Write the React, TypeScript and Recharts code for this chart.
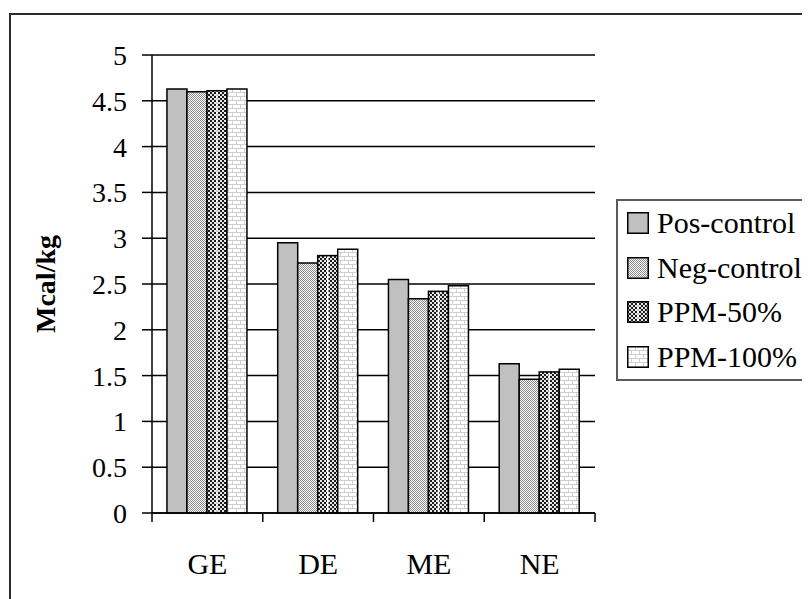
import { Bar, BarChart, CartesianGrid, Legend, XAxis, YAxis } from "recharts";

const categories = ["GE", "DE", "ME", "NE"];
const posControl = [4.63, 2.95, 2.55, 1.63];
const negControl = [4.6, 2.73, 2.34, 1.46];
const ppm50 = [4.61, 2.81, 2.42, 1.54];
const ppm100 = [4.63, 2.88, 2.48, 1.57];
const yTicks = [0, 0.5, 1, 1.5, 2, 2.5, 3, 3.5, 4, 4.5, 5];
const seriesNames = ["Pos-control", "Neg-control", "PPM-50%", "PPM-100%"];

const FONT = '"Liberation Serif", "Times New Roman", serif';

const data = categories.map((name, i) => ({
  name,
  pos: posControl[i],
  neg: negControl[i],
  p50: ppm50[i],
  p100: ppm100[i],
}));

const series = [
  { key: "pos", name: seriesNames[0], fill: "#c0c0c0" },
  { key: "neg", name: seriesNames[1], fill: "url(#negDots)" },
  { key: "p50", name: seriesNames[2], fill: "url(#darkDots)" },
  { key: "p100", name: seriesNames[3], fill: "url(#brick)" },
];

// fill patterns shared by the bars and the legend swatches
function PatternDefs() {
  return (
    <svg width={0} height={0} style={{ position: "absolute" }}>
      <defs>
        <pattern id="negDots" width={2} height={2} patternUnits="userSpaceOnUse">
          <rect width={2} height={2} fill="#fff" />
          <rect x={0} y={0} width={1} height={1} fill="#8a8a8a" />
          <rect x={1} y={1} width={1} height={1} fill="#8a8a8a" />
        </pattern>
        <pattern id="darkDots" width={4} height={4} patternUnits="userSpaceOnUse">
          <rect width={4} height={4} fill="#1c1c1c" />
          <rect x={0} y={0} width={2} height={2} fill="#e6e6e6" />
          <rect x={2} y={2} width={2} height={2} fill="#e6e6e6" />
        </pattern>
        <pattern id="brick" width={8} height={8} patternUnits="userSpaceOnUse">
          <rect width={8} height={8} fill="#fff" />
          <rect x={0} y={0} width={8} height={1} fill="#cfcfcf" />
          <rect x={0} y={4} width={8} height={1} fill="#cfcfcf" />
          <rect x={0} y={0} width={1} height={4} fill="#cfcfcf" />
          <rect x={4} y={4} width={1} height={4} fill="#cfcfcf" />
        </pattern>
      </defs>
    </svg>
  );
}

// the dark bar carries a thin white stripe down its middle
function DarkBar(props: any) {
  const { x, y, width, height } = props;
  if (!height) return null;
  const mid = x + width / 2;
  return (
    <g>
      <rect x={x} y={y} width={width} height={height} fill="url(#darkDots)" stroke="#000" strokeWidth={1.5} />
      <line x1={mid} x2={mid} y1={y + 1} y2={y + height - 1} stroke="#fff" strokeWidth={1.5} />
    </g>
  );
}

function CategoryTick(props: any) {
  const { x, y, payload, index, visibleTicksCount, width } = props;
  const half = payload?.offset > 0 ? payload.offset : width / visibleTicksCount / 2;
  const last = index === visibleTicksCount - 1;
  return (
    <g>
      <line x1={x - half} x2={x - half} y1={y} y2={y + 9} stroke="#000" strokeWidth={1.5} />
      {last && <line x1={x + half} x2={x + half} y1={y} y2={y + 9} stroke="#000" strokeWidth={1.5} />}
      <text x={x} y={y + 50} dy="0.35em" textAnchor="middle" fontFamily={FONT} fontSize={30} fill="#000">
        {payload.value}
      </text>
    </g>
  );
}

function YTitle(props: any) {
  const vb = props.viewBox || { y: 47, height: 458 };
  const cy = vb.y + vb.height / 2;
  return (
    <text
      x={37}
      y={cy}
      transform={`rotate(-90, 37, ${cy})`}
      textAnchor="middle"
      dy="0.35em"
      fontFamily={FONT}
      fontSize={28}
      fontWeight="bold"
      fill="#000"
    >
      Mcal/kg
    </text>
  );
}

// legend keeps the series order rather than sorting by name
function LegendBox() {
  return (
    <div
      style={{
        boxSizing: "border-box",
        width: 194,
        height: 182,
        borderLeft: "2px solid #5a5a5a",
        borderTop: "2px solid #5a5a5a",
        borderBottom: "2px solid #5a5a5a",
        background: "#fff",
        fontFamily: FONT,
        fontSize: 30,
        color: "#000",
      }}
    >
      {series.map((s) => (
        <div key={s.key} style={{ display: "flex", alignItems: "center", height: 44.5, paddingLeft: 9 }}>
          <svg width={22} height={22} style={{ flex: "none" }}>
            <rect x={0.75} y={0.75} width={20.5} height={20.5} fill={s.fill} stroke="#000" strokeWidth={1.5} />
            {s.key === "p50" && <line x1={11} x2={11} y1={2} y2={20} stroke="#fff" strokeWidth={1.5} />}
          </svg>
          <span style={{ marginLeft: 8, whiteSpace: "nowrap", lineHeight: 1 }}>{s.name}</span>
        </div>
      ))}
    </div>
  );
}

export default function App() {
  return (
    <div style={{ position: "relative", width: 802, height: 591, overflow: "hidden" }}>
      <PatternDefs />
      <div
        style={{
          position: "absolute",
          left: 1,
          top: 5,
          right: 0,
          bottom: 0,
          borderLeft: "2px solid #2b2b2b",
          borderTop: "2px solid #2b2b2b",
        }}
      />
      <BarChart
        width={802}
        height={591}
        data={data}
        margin={{ top: 47, right: 215, bottom: 0, left: 0 }}
        barCategoryGap="13.5%"
        barGap={0}
      >
        <CartesianGrid vertical={false} stroke="#000" strokeWidth={1.5} />
        <XAxis
          dataKey="name"
          height={86}
          interval={0}
          tickSize={0}
          tickMargin={0}
          tickLine={false}
          axisLine={{ stroke: "#000", strokeWidth: 1.5 }}
          tick={<CategoryTick />}
        />
        <YAxis
          width={144}
          domain={[0, 5]}
          ticks={yTicks}
          interval={0}
          tickSize={10}
          tickMargin={15}
          axisLine={{ stroke: "#000", strokeWidth: 1.5 }}
          tickLine={{ stroke: "#000", strokeWidth: 1.5 }}
          tick={{ fill: "#000", fontSize: 28, fontFamily: FONT }}
          label={<YTitle />}
        />
        <Legend
          layout="horizontal"
          verticalAlign="middle"
          align="center"
          wrapperStyle={{ left: 608, top: 191, width: 194, height: 182 }}
          content={<LegendBox />}
        />
        {series.map((s) =>
          s.key === "p50" ? (
            <Bar key={s.key} dataKey={s.key} name={s.name} fill={s.fill} shape={<DarkBar />} isAnimationActive={false} />
          ) : (
            <Bar
              key={s.key}
              dataKey={s.key}
              name={s.name}
              fill={s.fill}
              stroke="#000"
              strokeWidth={1.5}
              isAnimationActive={false}
            />
          )
        )}
      </BarChart>
    </div>
  );
}
